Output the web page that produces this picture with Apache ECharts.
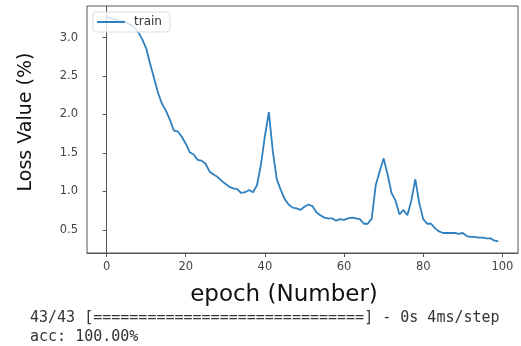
<!DOCTYPE html>
<html>
<head>
<meta charset="utf-8">
<script src="https://cdn.jsdelivr.net/npm/echarts@6/dist/echarts.min.js"></script>
<style>
  html, body { margin: 0; padding: 0; background: #fff; }
  #chart { width: 521px; height: 346px; }
</style>
</head>
<body>
<div id="chart"></div>
<script>
// training loss per epoch
var epochs = [];
for (var i = 0; i < 100; i++) epochs.push(i);
var trainLoss = [
  3.27, 3.25, 3.24, 3.22, 3.21, 3.19, 3.17, 3.13, 3.07, 2.98,
  2.86, 2.66, 2.47, 2.28, 2.14, 2.05, 1.93, 1.79, 1.78, 1.71,
  1.62, 1.51, 1.48, 1.41, 1.40, 1.36, 1.26, 1.22, 1.19, 1.14,
  1.10, 1.06, 1.04, 1.03, 0.98, 0.99, 1.02, 0.99, 1.08, 1.35,
  1.72, 2.03, 1.52, 1.16, 1.02, 0.90, 0.83, 0.79, 0.78, 0.76,
  0.80, 0.83, 0.81, 0.73, 0.69, 0.66, 0.65, 0.65, 0.62, 0.64,
  0.63, 0.65, 0.66, 0.65, 0.64, 0.58, 0.58, 0.65, 1.08, 1.26,
  1.43, 1.22, 0.98, 0.88, 0.70, 0.76, 0.69, 0.88, 1.16, 0.85,
  0.64, 0.58, 0.58, 0.52, 0.48, 0.46, 0.46, 0.46, 0.46, 0.45,
  0.46, 0.42, 0.41, 0.41, 0.40, 0.40, 0.39, 0.39, 0.36, 0.35
];
var xTicks = [0, 20, 40, 60, 80, 100];
var yTicks = [0.5, 1.0, 1.5, 2.0, 2.5, 3.0];
var consoleLines = [
  '43/43 [==============================] - 0s 4ms/step',
  'acc: 100.00%'
];

var chart = echarts.init(document.getElementById('chart'));
var frame = '#555';
var tickText = '#444';
var lineColor = '#2f80bf';

chart.setOption({
  animation: false,
  grid: {
    left: 87, right: 3, top: 6, bottom: 93,
    show: true, borderColor: frame, borderWidth: 1
  },
  legend: {
    data: [{ name: 'train', icon: 'rect' }],
    left: 93, top: 12,
    padding: [4, 8, 4, 4],
    itemWidth: 28, itemHeight: 2,
    backgroundColor: 'rgba(255,255,255,0.8)',
    borderColor: '#ddd', borderWidth: 1, borderRadius: 3,
    textStyle: { fontFamily: 'DejaVu Sans', fontSize: 12, color: '#333', padding: [0, 0, 0, 4] }
  },
  xAxis: {
    type: 'value',
    min: -4.95, max: 103.95,
    axisLine: { show: true, lineStyle: { color: frame } },
    axisTick: { show: true, customValues: xTicks, length: 4, lineStyle: { color: frame } },
    axisLabel: { customValues: xTicks, margin: 8, color: tickText, fontFamily: 'DejaVu Sans', fontSize: 11.5 },
    splitLine: { show: false }
  },
  yAxis: {
    type: 'value',
    min: 0.2, max: 3.41,
    axisLine: { show: true, lineStyle: { color: frame } },
    axisTick: { show: true, customValues: yTicks, length: 4, lineStyle: { color: frame } },
    axisLabel: {
      customValues: yTicks, margin: 9, color: tickText, fontFamily: 'DejaVu Sans', fontSize: 11.5,
      formatter: function (v) { return v.toFixed(1); }
    },
    splitLine: { show: false }
  },
  series: [{
    name: 'train',
    type: 'line',
    symbol: 'none',
    data: epochs.map(function (e, i) { return [e, trainLoss[i]]; }),
    lineStyle: { color: lineColor, width: 1.8 },
    itemStyle: { color: lineColor }
  }],
  graphic: [
    {
      type: 'text', x: 26, y: 122, rotation: Math.PI / 2,
      style: { text: 'Loss Value (%)', fontFamily: 'DejaVu Sans', fontSize: 19, fill: '#111', align: 'center', verticalAlign: 'middle' }
    },
    {
      type: 'text', x: 284, y: 295,
      style: { text: 'epoch (Number)', fontFamily: 'DejaVu Sans', fontSize: 23, fill: '#111', align: 'center', verticalAlign: 'middle' }
    },
    {
      type: 'text', x: 30, y: 318,
      style: { text: consoleLines[0], fontFamily: 'DejaVu Sans Mono', fontSize: 15, fill: '#333', verticalAlign: 'middle' }
    },
    {
      type: 'text', x: 30, y: 337,
      style: { text: consoleLines[1], fontFamily: 'DejaVu Sans Mono', fontSize: 15, fill: '#333', verticalAlign: 'middle' }
    }
  ]
});
</script>
</body>
</html>
